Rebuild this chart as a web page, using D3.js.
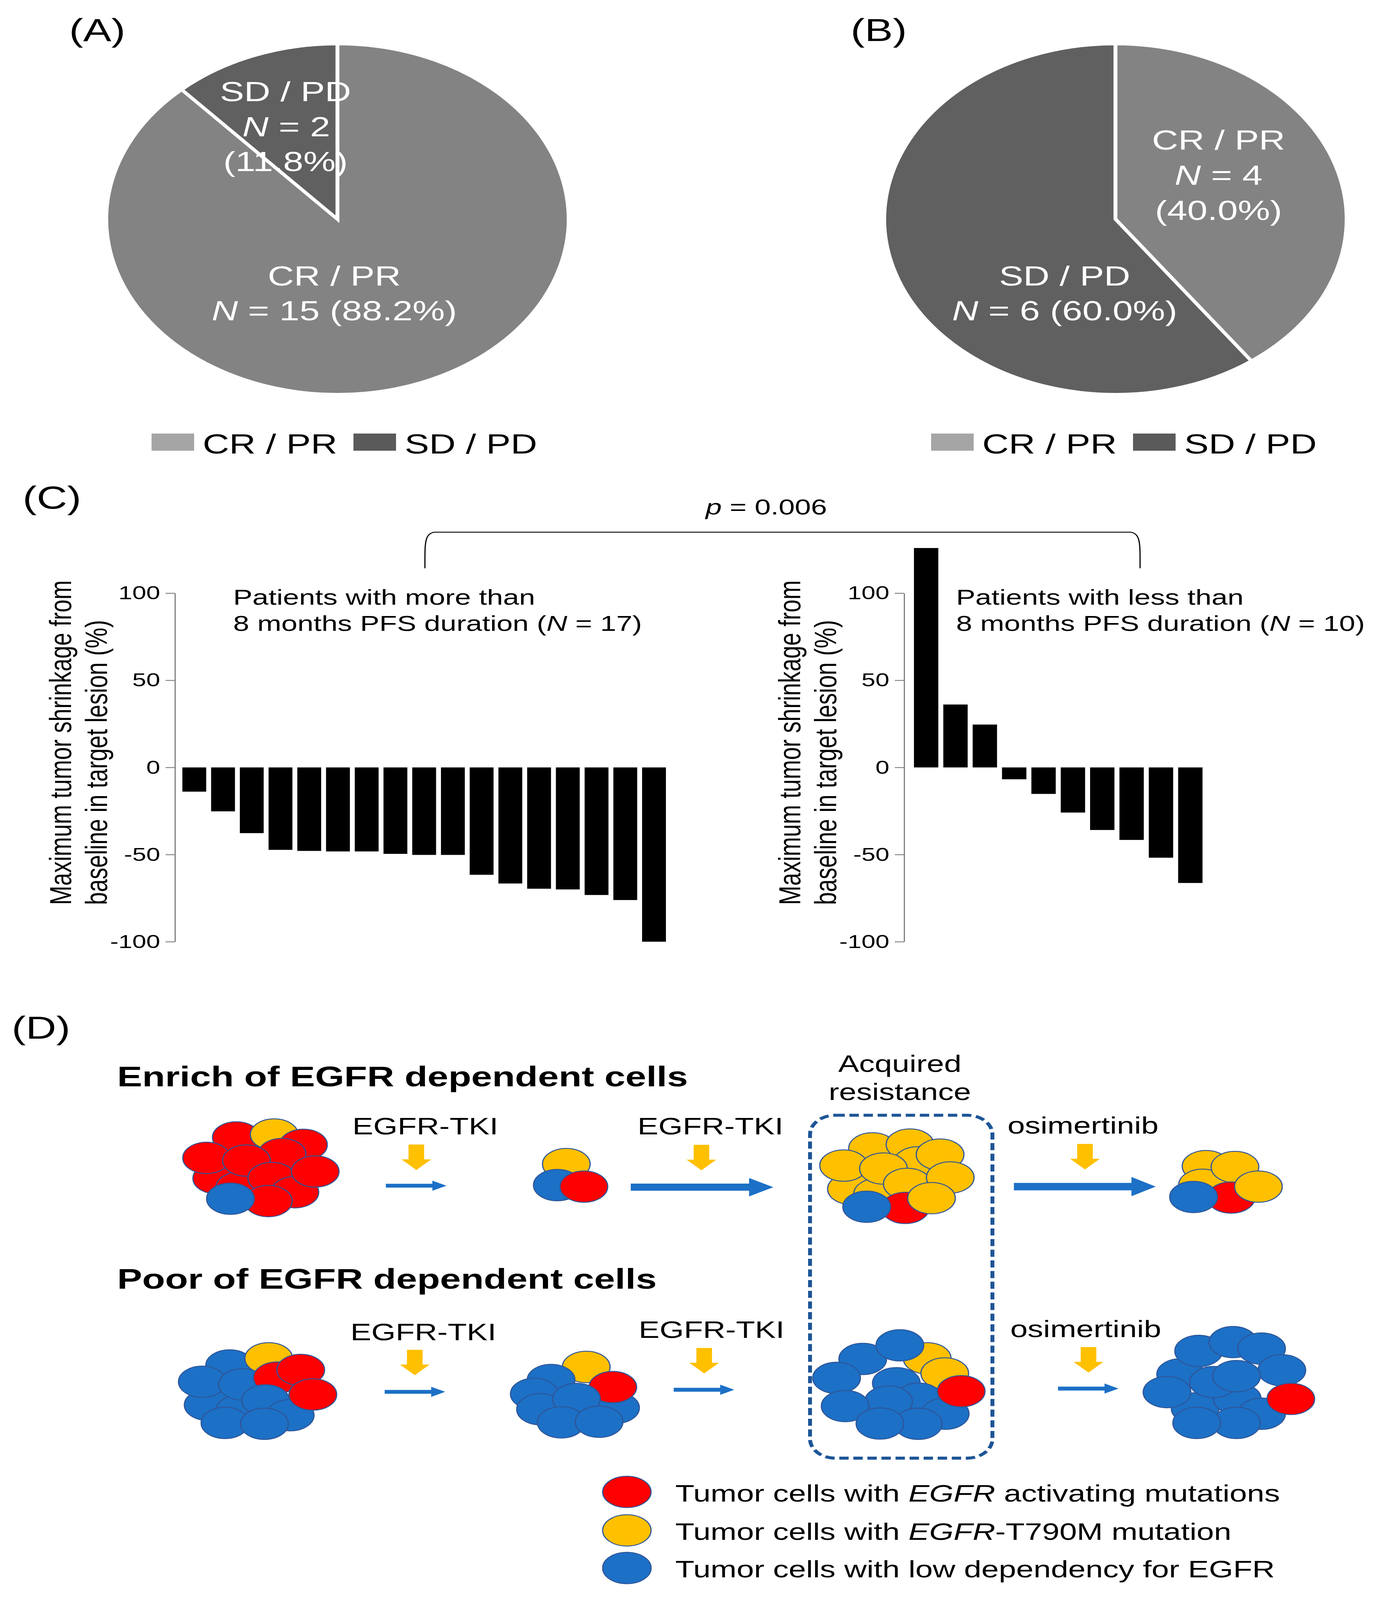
<!DOCTYPE html>
<html>
<head>
<meta charset="utf-8">
<script src="https://cdn.jsdelivr.net/npm/d3@7"></script>
<style>
html, body { margin: 0; padding: 0; background: #fff; overflow: hidden; }
svg { display: block; }
svg text { font-family: "Liberation Sans", Arial, Helvetica, sans-serif; }
</style>
</head>
<body>
<div id="figure"></div>
<script>
// ---- (A) / (B) pie data
const pieCategories = ['CR / PR', 'SD / PD']
const longPfsCounts = [15, 2]
const shortPfsCounts = [4, 6]
const longPfsPercent = ['88.2%', '11.8%']
const shortPfsPercent = ['40.0%', '60.0%']

// ---- (C) waterfall data (max shrinkage, %)
const longPfsShrink = [-13.9, -25.2, -37.7, -47.3, -47.9, -48.2, -48.2, -49.6, -50.2, -50.2, -61.6, -66.6, -69.6, -70.0, -73.2, -76.1, -100]
const shortPfsShrink = [125.9, 36.1, 24.6, -6.8, -15.2, -25.9, -35.9, -41.6, -51.8, -66.3]
const yTicks = [100, 50, 0, -50, -100]
const pValue = '0.006'

// ---- (D) schematic: cell types (R = EGFR activating, Y = T790M, B = low dependency)
const cellTypes = ['R', 'Y', 'B']
const legendLabels = [
    ['Tumor cells with ', 'EGFR', ' activating mutations'],
    ['Tumor cells with ', 'EGFR', '-T790M mutation'],
    ['Tumor cells with low dependency for EGFR', '', '']
]
const stepLabels = ['EGFR-TKI', 'EGFR-TKI', 'osimertinib']

// cluster layout: [dx, dy, type] around each cluster centre, drawn back to front
const clusters = [
    { cx: 680, cy: 3940, cells: [[-125,39,'R'],[-66,70,'R'],[-75,-99,'R'],[22,-109,'Y'],[97,-74,'R'],[-151,-30,'R'],[42,-43,'R'],[-49,-21,'R'],[16,38,'R'],[75,86,'R'],[127,16,'R'],[7,116,'R'],[-90,108,'B']] },
    { cx: 1460, cy: 3975, cells: [[-10,-44,'Y'],[-33,27,'B'],[35,32,'R']] },
    { cx: 2300, cy: 3960, cells: [[-120,55,'Y'],[-53,72,'Y'],[-66,-82,'Y'],[30,-95,'Y'],[-140,-24,'Y'],[50,-35,'Y'],[-38,-14,'Y'],[107,-61,'Y'],[23,38,'Y'],[133,16,'Y'],[18,119,'R'],[85,86,'Y'],[-81,115,'B']] },
    { cx: 3150, cy: 3990, cells: [[-62,-52,'Y'],[-71,11,'Y'],[12,-49,'Y'],[2,54,'R'],[72,17,'Y'],[-94,52,'B']] },
    { cx: 670, cy: 4710, cells: [[-137,34,'B'],[-56,53,'B'],[-82,-99,'B'],[18,-123,'Y'],[-152,-44,'B'],[-49,-35,'B'],[40,-58,'R'],[100,-84,'R'],[10,19,'B'],[73,69,'B'],[131,-1,'R'],[-94,95,'B'],[7,98,'B']] },
    { cx: 1480, cy: 4720, cells: [[21,-104,'Y'],[-69,-60,'B'],[96,34,'B'],[89,-36,'R'],[-112,-13,'B'],[-96,39,'B'],[-4,4,'B'],[-43,83,'B'],[54,81,'B']] },
    { cx: 2300, cy: 4700, cells: [[74,-113,'Y'],[-91,-111,'B'],[4,-157,'B'],[-158,-47,'B'],[119,-62,'Y'],[-5,-29,'B'],[52,23,'B'],[-25,33,'B'],[-136,48,'B'],[120,74,'B'],[161,-2,'R'],[51,108,'B'],[-47,107,'B']] },
    { cx: 3150, cy: 4690, cells: [[-127,-49,'B'],[-90,66,'B'],[18,34,'B'],[-81,-128,'B'],[7,-158,'B'],[80,-136,'B'],[132,-63,'B'],[-162,11,'B'],[-43,-23,'B'],[16,-43,'B'],[80,84,'B'],[155,34,'R'],[16,115,'B'],[-86,115,'B']] }
]

// the figure is laid out on a 3582 x 5403 canvas and fitted to the window
const W = 3582, H = 5403
const svg = d3.select('#figure').append('svg')
    .attr('width', window.innerWidth || W)
    .attr('height', window.innerHeight || H)
    .attr('viewBox', `0 0 ${W} ${H}`)
    .attr('preserveAspectRatio', 'none')

const sliceColor = d3.scaleOrdinal().domain(pieCategories).range(['#838383', '#606060'])
const swatchColor = d3.scaleOrdinal().domain(pieCategories).range(['#a5a5a5', '#5a5a5a'])
const cellColor = d3.scaleOrdinal().domain(cellTypes).range(['#ff0000', '#ffc000', '#1c70c6'])

// panel letters
const panelLetters = [['(A)', 177, 138], ['(B)', 2178, 138], ['(C)', 58, 1718], ['(D)', 30, 3508]]
svg.selectAll('text.panel')
    .data(panelLetters)
    .enter().append('text')
    .attr('class', 'panel')
    .attr('x', d => d[1])
    .attr('y', d => d[2])
    .attr('font-size', 108)
    .text(d => d[0])

// ---------------- pies ----------------
const pie = d3.pie().sort(null).value(d => d)
const arc = d3.arc().innerRadius(0).outerRadius(592)

function addLabel(g, x, y, parts, size) {
    const t = g.append('text')
        .attr('x', x).attr('y', y)
        .attr('text-anchor', 'middle')
        .attr('font-size', size)
        .attr('fill', '#fff')
    parts.forEach(p => {
        t.append('tspan').attr('font-style', p[1] ? 'italic' : 'normal').text(p[0])
    })
}

function drawPie(cx, cy, counts) {
    const g = svg.append('g').attr('transform', `translate(${cx},${cy})`)
    g.selectAll('path')
        .data(pie(counts))
        .enter().append('path')
        .attr('d', arc)
        .attr('fill', (d, i) => sliceColor(pieCategories[i]))
        .attr('stroke', '#fff')
        .attr('stroke-width', 10)
    return g
}

function drawPieLegend(x0, y0) {
    const offs = [0, 517]
    pieCategories.forEach((c, i) => {
        svg.append('rect')
            .attr('x', x0 + offs[i]).attr('y', y0)
            .attr('width', 109).attr('height', 58)
            .attr('fill', swatchColor(c))
        svg.append('text')
            .attr('x', x0 + offs[i] + 131).attr('y', y0 + 67)
            .attr('font-size', 94)
            .text(c)
    })
}

const pieA = drawPie(864, 740, longPfsCounts)
addLabel(pieA, -133, -398, [[pieCategories[1]]], 93)
addLabel(pieA, -131, -280, [['N', true], [' = ' + longPfsCounts[1]]], 93)
addLabel(pieA, -133, -162, [['(' + longPfsPercent[1] + ')']], 93)
addLabel(pieA, -8, 224, [[pieCategories[0]]], 93)
addLabel(pieA, -8, 342, [['N', true], [' = ' + longPfsCounts[0] + ' (' + longPfsPercent[0] + ')']], 93)
drawPieLegend(388, 1464)

const pieB = drawPie(2856, 740, shortPfsCounts)
addLabel(pieB, 264, -235, [[pieCategories[0]]], 93)
addLabel(pieB, 264, -116, [['N', true], [' = ' + shortPfsCounts[0]]], 93)
addLabel(pieB, 264, 3, [['(' + shortPfsPercent[0] + ')']], 93)
addLabel(pieB, -130, 224, [[pieCategories[1]]], 93)
addLabel(pieB, -130, 342, [['N', true], [' = ' + shortPfsCounts[1] + ' (' + shortPfsPercent[1] + ')']], 93)
drawPieLegend(2384, 1464)

// ---------------- waterfalls ----------------
const y = d3.scaleLinear().domain([-100, 100]).range([3180, 2003])

function drawWaterfall(values, axisX, x0, x1, annot) {
    const x = d3.scaleBand()
        .domain(d3.range(values.length))
        .range([x0, x1])
        .paddingInner(0.17)
        .paddingOuter(0.085)

    svg.append('g')
        .selectAll('rect')
        .data(values)
        .enter().append('rect')
        .attr('x', (d, i) => x(i))
        .attr('y', d => y(Math.max(0, d)))
        .attr('width', x.bandwidth())
        .attr('height', d => Math.abs(y(d) - y(0)))
        .attr('fill', '#000')

    const ax = svg.append('g')
        .attr('transform', `translate(${axisX},0)`)
        .call(d3.axisLeft(y).tickValues(yTicks).tickFormat(d => String(d))
            .tickSize(24).tickSizeOuter(0).tickPadding(14))
    ax.select('.domain').attr('stroke', '#808080').attr('stroke-width', 3)
    ax.selectAll('.tick line').attr('stroke', '#808080').attr('stroke-width', 3)
    ax.selectAll('.tick text')
        .attr('font-size', 64)
        .attr('font-family', '"Liberation Sans", Arial, sans-serif')
        .attr('fill', '#000')

    const yTitle = ['Maximum tumor shrinkage from', 'baseline in target lesion (%)']
    yTitle.forEach((line, i) => {
        svg.append('text')
            .attr('transform', `translate(${axisX - 266 + i * 92},3056) rotate(-90)`)
            .attr('font-size', 78)
            .text(line)
    })

    svg.append('text')
        .attr('x', annot.x).attr('y', 2042)
        .attr('font-size', 74)
        .text(annot.line1)
    const t2 = svg.append('text')
        .attr('x', annot.x).attr('y', 2131)
        .attr('font-size', 74)
    t2.append('tspan').text('8 months PFS duration (')
    t2.append('tspan').attr('font-style', 'italic').text('N')
    t2.append('tspan').text(' = ' + values.length + ')')
}

drawWaterfall(longPfsShrink, 448, 460.7, 1711.3, { x: 597, line1: 'Patients with more than' })
drawWaterfall(shortPfsShrink, 2315, 2333.7, 3085.3, { x: 2448, line1: 'Patients with less than' })

// significance bracket
const bx1 = 1088, bx2 = 2919, bTop = 1797, bBot = 1919, r = 24
svg.append('path')
    .attr('d', `M${bx1},${bBot} C${bx1},${bTop + 40} ${bx1 - 2},${bTop + 6} ${bx1 + r},${bTop} L${bx2 - r},${bTop} C${bx2 + 2},${bTop + 6} ${bx2},${bTop + 40} ${bx2},${bBot}`)
    .attr('fill', 'none')
    .attr('stroke', '#000')
    .attr('stroke-width', 3)
const pt = svg.append('text')
    .attr('x', 1962).attr('y', 1737)
    .attr('text-anchor', 'middle')
    .attr('font-size', 74)
pt.append('tspan').attr('font-style', 'italic').text('p')
pt.append('tspan').text(' = ' + pValue)

// ---------------- (D) schematic ----------------
const rowTitles = [['Enrich of EGFR dependent cells', 3668], ['Poor of EGFR dependent cells', 4352]]
rowTitles.forEach(d => {
    svg.append('text')
        .attr('x', 300).attr('y', d[1])
        .attr('font-size', 96)
        .attr('font-weight', 'bold')
        .text(d[0])
})

// acquired resistance box
svg.append('rect')
    .attr('x', 2074).attr('y', 3766)
    .attr('width', 467).attr('height', 1158)
    .attr('rx', 65).attr('ry', 65)
    .attr('fill', 'none')
    .attr('stroke', '#1d5596')
    .attr('stroke-width', 10)
    .attr('stroke-dasharray', '24 12')
svg.append('text').attr('x', 2304).attr('y', 3619).attr('text-anchor', 'middle').attr('font-size', 80).text('Acquired')
svg.append('text').attr('x', 2304).attr('y', 3714).attr('text-anchor', 'middle').attr('font-size', 80).text('resistance')

// step labels + yellow drug arrows
const stepPos = [
    { lx: 1089, ly: 3830, ax: 1066, top: 3865 },
    { lx: 1819, ly: 3831, ax: 1796, top: 3866 },
    { lx: 2773, ly: 3828, ax: 2778, top: 3863 },
    { lx: 1084, ly: 4526, ax: 1062, top: 4558 },
    { lx: 1822, ly: 4518, ax: 1803, top: 4552 },
    { lx: 2780, ly: 4515, ax: 2787, top: 4549 }
]
stepPos.forEach((s, i) => {
    svg.append('text')
        .attr('x', s.lx).attr('y', s.ly)
        .attr('text-anchor', 'middle')
        .attr('font-size', 80)
        .text(stepLabels[i % 3])
    const sw = 20, hw = 38
    const pts = [[s.ax - sw, s.top], [s.ax + sw, s.top], [s.ax + sw, s.top + 50], [s.ax + hw, s.top + 50],
        [s.ax, s.top + 86], [s.ax - hw, s.top + 50], [s.ax - sw, s.top + 50]]
    svg.append('polygon').attr('points', pts.map(p => p.join(',')).join(' ')).attr('fill', '#ffc000')
})

// blue progression arrows
const flowArrows = [
    { x1: 988, x2: 1143, y: 4004, shaft: 13, head: 34, len: 36 },
    { x1: 1615, x2: 1980, y: 4009, shaft: 24, head: 62, len: 62 },
    { x1: 2596, x2: 2959, y: 4007, shaft: 25, head: 65, len: 62 },
    { x1: 985, x2: 1140, y: 4700, shaft: 13, head: 34, len: 36 },
    { x1: 1725, x2: 1880, y: 4693, shaft: 13, head: 34, len: 36 },
    { x1: 2709, x2: 2864, y: 4689, shaft: 13, head: 34, len: 36 }
]
svg.selectAll('polygon.flow')
    .data(flowArrows)
    .enter().append('polygon')
    .attr('class', 'flow')
    .attr('points', a => {
        const hx = a.x2 - a.len
        return [[a.x1, a.y - a.shaft / 2], [hx, a.y - a.shaft / 2], [hx, a.y - a.head / 2], [a.x2, a.y],
            [hx, a.y + a.head / 2], [hx, a.y + a.shaft / 2], [a.x1, a.y + a.shaft / 2]].map(p => p.join(',')).join(' ')
    })
    .attr('fill', '#1c70c6')

// cells
clusters.forEach(c => {
    svg.append('g')
        .attr('transform', `translate(${c.cx},${c.cy})`)
        .selectAll('ellipse')
        .data(c.cells)
        .enter().append('ellipse')
        .attr('cx', d => d[0])
        .attr('cy', d => d[1])
        .attr('rx', 61)
        .attr('ry', 53)
        .attr('fill', d => cellColor(d[2]))
        .attr('stroke', '#2f5597')
        .attr('stroke-width', 3)
})

// legend for (D)
const legY = [5038, 5168, 5295]
legendLabels.forEach((lab, i) => {
    svg.append('ellipse')
        .attr('cx', 1605).attr('cy', legY[i])
        .attr('rx', 62).attr('ry', 53)
        .attr('fill', cellColor(cellTypes[i]))
        .attr('stroke', '#2f5597')
        .attr('stroke-width', 3)
    const t = svg.append('text')
        .attr('x', 1729).attr('y', legY[i] + 32)
        .attr('font-size', 80)
    t.append('tspan').text(lab[0])
    if (lab[1]) t.append('tspan').attr('font-style', 'italic').text(lab[1])
    if (lab[2]) t.append('tspan').text(lab[2])
})
</script>
</body>
</html>
